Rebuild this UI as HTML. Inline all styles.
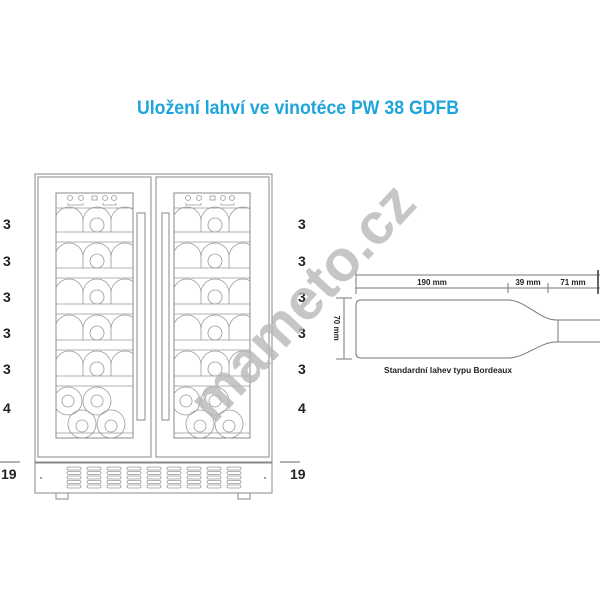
<!DOCTYPE html>
<html><head><meta charset="utf-8"><style>
html,body{margin:0;padding:0;background:#fff}
svg{display:block}
text{font-family:"Liberation Sans",sans-serif}
</style></head><body>
<svg width="600" height="600" viewBox="0 0 600 600" xmlns="http://www.w3.org/2000/svg">
<defs>
<clipPath id="cl"><rect x="56" y="193" width="77" height="245"/></clipPath>
<clipPath id="cr"><rect x="174" y="193" width="76" height="245"/></clipPath>
<g id="row" fill="none" stroke="#999" stroke-width="0.8">
  <path d="M-1 37 V26 A14 14 0 0 1 27 26 V37 M27 26 A14 14 0 0 1 55 26 V37 M55 26 A14 14 0 0 1 83 26 V37"/>
  <circle cx="41" cy="30" r="7"/>
  <line x1="-20" y1="37" x2="100" y2="37"/><line x1="-20" y1="47" x2="100" y2="47"/>
</g>
<g id="panel">
  <g fill="none" stroke="#999" stroke-width="0.8">
    <line x1="-20" y1="208" x2="100" y2="208"/>
    <circle cx="14" cy="198" r="2.5"/><circle cx="25" cy="198" r="2.5"/><rect x="36" y="196" width="5" height="4"/><circle cx="49" cy="198" r="2.5"/><circle cx="58" cy="198" r="2.5"/>
    <path d="M12 203 v2 h15 v-2 M47 203 v2 h13 v-2"/>
  </g>
  <use href="#row" x="0" y="195"/><use href="#row" x="0" y="231"/><use href="#row" x="0" y="267"/><use href="#row" x="0" y="303"/><use href="#row" x="0" y="339"/>
  <g fill="none" stroke="#999" stroke-width="0.8">
    <circle cx="12" cy="401" r="14"/><circle cx="12" cy="401" r="6"/><circle cx="41" cy="401" r="14"/><circle cx="41" cy="401" r="6"/>
    <circle cx="26" cy="424" r="14"/><circle cx="26" cy="426" r="6"/><circle cx="55" cy="424" r="14"/><circle cx="55" cy="426" r="6"/>
    <line x1="-20" y1="433" x2="100" y2="433"/>
  </g>
</g>
</defs>

<text x="298" y="114" text-anchor="middle" font-size="19" font-weight="bold" fill="#1ea5dc" textLength="322" lengthAdjust="spacingAndGlyphs">Uložení lahví ve vinotéce PW 38 GDFB</text>

<g fill="none" stroke="#888" stroke-width="1">
  <rect x="35" y="174" width="237" height="288"/>
  <rect x="38" y="177" width="113" height="280"/>
  <rect x="156" y="177" width="113" height="280"/>
  <rect x="56" y="193" width="77" height="245"/>
  <rect x="174" y="193" width="76" height="245"/>
  <rect x="137" y="213" width="8" height="207"/>
  <rect x="162" y="213" width="7" height="207"/>
  <rect x="35" y="463" width="237" height="30"/>
  <rect x="56" y="493" width="12" height="6"/>
  <rect x="238" y="493" width="12" height="6"/>
</g>
<g clip-path="url(#cl)"><use href="#panel" x="56" y="0"/></g>
<g clip-path="url(#cr)"><use href="#panel" x="174" y="0"/></g>
<g fill="none" stroke="#999" stroke-width="0.8">
  <g id="vent"><rect x="67" y="467" width="14" height="3" rx="1.5"/><rect x="67" y="471.5" width="14" height="3" rx="1.5"/><rect x="67" y="476" width="14" height="3" rx="1.5"/><rect x="67" y="480.5" width="14" height="3" rx="1.5"/><rect x="67" y="485" width="14" height="3" rx="1.5"/></g>
  <use href="#vent" x="20"/><use href="#vent" x="40"/><use href="#vent" x="60"/><use href="#vent" x="80"/><use href="#vent" x="100"/><use href="#vent" x="120"/><use href="#vent" x="140"/><use href="#vent" x="160"/>
</g>
<circle cx="41" cy="478" r="1" fill="#888"/><circle cx="265" cy="478" r="1" fill="#888"/>

<g font-size="14" font-weight="bold" fill="#222">
  <text x="3" y="229">3</text><text x="3" y="266">3</text><text x="3" y="302">3</text><text x="3" y="338">3</text><text x="3" y="374">3</text><text x="3" y="413">4</text><text x="1" y="479">19</text>
  <text x="298" y="229">3</text><text x="298" y="266">3</text><text x="298" y="302">3</text><text x="298" y="338">3</text><text x="298" y="374">3</text><text x="298" y="413">4</text><text x="290" y="479">19</text>
</g>
<line x1="0" y1="462" x2="20" y2="462" stroke="#666"/>
<line x1="280" y1="462" x2="300" y2="462" stroke="#666"/>

<g fill="none" stroke="#777" stroke-width="1">
  <line x1="356" y1="275" x2="600" y2="275"/>
  <line x1="356" y1="288" x2="600" y2="288"/>
  <line x1="356" y1="270" x2="356" y2="294"/>
  <line x1="508" y1="283" x2="508" y2="293"/>
  <line x1="548" y1="283" x2="548" y2="293"/>
  <line x1="598" y1="270" x2="598" y2="294" stroke="#333" stroke-width="1.5"/>
  <line x1="344" y1="298" x2="344" y2="359"/>
  <line x1="336" y1="298" x2="352" y2="298"/>
  <line x1="336" y1="359" x2="352" y2="359"/>
  <path d="M600 320 H556 C540 320 525 300 508 300 H361 Q356 300 356 305 V353 Q356 358 361 358 H508 C525 358 540 342 556 342 H600"/>
  <line x1="558" y1="320" x2="558" y2="342"/>
</g>
<g font-size="8" font-weight="bold" fill="#222">
  <text x="432" y="285" text-anchor="middle">190 mm</text>
  <text x="528" y="285" text-anchor="middle">39 mm</text>
  <text x="573" y="285" text-anchor="middle">71 mm</text>
  <text x="448" y="373" text-anchor="middle" textLength="128" lengthAdjust="spacingAndGlyphs">Standardní lahev typu Bordeaux</text>
  <text transform="translate(334,328) rotate(90)" text-anchor="middle">70 mm</text>
</g>

<text transform="translate(305,305) rotate(-47)" text-anchor="middle" dominant-baseline="middle" font-size="58" font-weight="bold" fill="#b8b8b8" fill-opacity="0.8" textLength="300" lengthAdjust="spacingAndGlyphs">mameto.cz</text>
</svg>
</body></html>
